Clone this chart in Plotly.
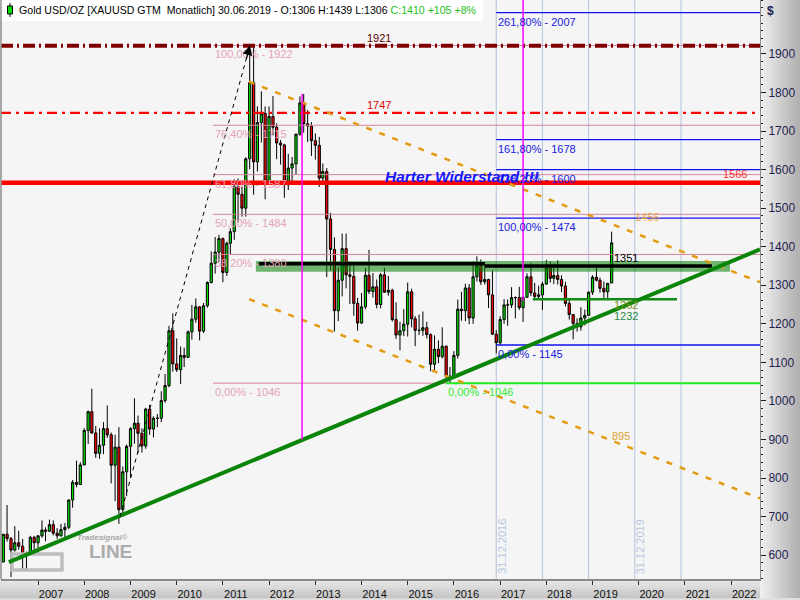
import plotly.graph_objects as go
import pandas as pd

# ---------------- data ----------------
months = pd.date_range("2006-04-01", "2019-06-01", freq="MS")

open_ = [582, 654, 643, 613, 632, 623, 599, 604, 646,
         632, 650, 665, 662, 679, 657, 650, 666, 672, 743, 789, 783,
         834, 923, 972, 917, 864, 885, 928, 912, 833, 880, 718, 816,
         882, 928, 942, 916, 883, 979, 927, 955, 955, 1001, 1040, 1182,
         1096, 1081, 1118, 1113, 1179, 1212, 1244, 1181, 1247, 1307, 1357, 1386,
         1421, 1333, 1409, 1439, 1556, 1536, 1500, 1628, 1826, 1620, 1722, 1746,
         1564, 1738, 1710, 1669, 1664, 1561, 1604, 1615, 1692, 1773, 1719, 1713,
         1675, 1663, 1578, 1595, 1472, 1393, 1234, 1313, 1395, 1327, 1323, 1253,
         1202, 1244, 1326, 1284, 1296, 1250, 1327, 1282, 1287, 1211, 1171, 1182,
         1199, 1283, 1213, 1183, 1183, 1190, 1172, 1095, 1134, 1115, 1142, 1064,
         1061, 1118, 1238, 1234, 1293, 1215, 1322, 1351, 1309, 1315, 1275, 1173,
         1151, 1211, 1249, 1249, 1268, 1268, 1242, 1269, 1322, 1280, 1271, 1275,
         1303, 1345, 1318, 1325, 1315, 1298, 1253, 1224, 1201, 1192, 1215, 1222,
         1282, 1321, 1313, 1292, 1283, 1306]
high = [654, 730, 647, 675, 663, 642, 609, 650, 650,
        652, 690, 672, 692, 690, 670, 681, 683, 744, 795, 845, 841,
        929, 975, 1032, 935, 929, 945, 988, 918, 912, 932, 830, 887,
        932, 1007, 962, 929, 982, 990, 960, 966, 1025, 1070, 1195, 1227,
        1162, 1141, 1138, 1183, 1249, 1266, 1245, 1254, 1310, 1388, 1425, 1431,
        1424, 1413, 1448, 1575, 1577, 1556, 1632, 1913, 1921, 1764, 1803, 1764,
        1764, 1791, 1720, 1677, 1667, 1641, 1633, 1693, 1790, 1796, 1755, 1723,
        1694, 1685, 1616, 1604, 1488, 1424, 1348, 1434, 1434, 1361, 1361, 1267,
        1280, 1345, 1392, 1332, 1315, 1332, 1345, 1324, 1291, 1256, 1205, 1238,
        1307, 1291, 1220, 1224, 1232, 1205, 1175, 1170, 1157, 1191, 1143, 1088,
        1129, 1263, 1283, 1304, 1303, 1362, 1375, 1367, 1352, 1317, 1338, 1183,
        1220, 1264, 1263, 1295, 1271, 1296, 1271, 1331, 1357, 1306, 1299, 1309,
        1366, 1362, 1356, 1365, 1326, 1309, 1266, 1225, 1214, 1243, 1237, 1284,
        1326, 1347, 1320, 1310, 1306, 1439]
low = [582, 635, 543, 609, 614, 560, 560, 604, 608,
       603, 645, 636, 660, 651, 642, 648, 647, 667, 723, 776, 782,
       833, 888, 915, 852, 850, 862, 904, 786, 740, 681, 700, 753,
       801, 889, 865, 866, 876, 912, 905, 932, 945, 995, 1035, 1076,
       1075, 1044, 1088, 1112, 1159, 1203, 1157, 1176, 1242, 1305, 1330, 1360,
       1308, 1324, 1381, 1418, 1463, 1478, 1478, 1601, 1535, 1595, 1670, 1523,
       1562, 1689, 1627, 1613, 1527, 1547, 1565, 1587, 1688, 1696, 1672, 1635,
       1626, 1555, 1562, 1321, 1338, 1180, 1207, 1271, 1292, 1251, 1221, 1182,
       1200, 1238, 1277, 1268, 1240, 1240, 1281, 1273, 1206, 1161, 1131, 1168,
       1167, 1191, 1142, 1171, 1169, 1162, 1077, 1080, 1098, 1110, 1052, 1046,
       1061, 1110, 1208, 1207, 1199, 1200, 1310, 1301, 1302, 1241, 1171, 1123,
       1146, 1200, 1195, 1241, 1214, 1236, 1205, 1267, 1272, 1261, 1264, 1236,
       1302, 1307, 1303, 1302, 1282, 1245, 1211, 1160, 1180, 1182, 1196, 1221,
       1275, 1310, 1281, 1266, 1266, 1306]
close = [654, 643, 613, 632, 623, 599, 604, 646, 632,
         650, 665, 662, 679, 657, 650, 666, 672, 743, 789, 783, 834,
         923, 972, 917, 864, 885, 928, 912, 833, 880, 718, 816, 882,
         928, 942, 916, 883, 979, 927, 955, 955, 1001, 1040, 1182, 1096,
         1081, 1118, 1113, 1179, 1212, 1244, 1181, 1247, 1307, 1357, 1386, 1421,
         1333, 1409, 1439, 1556, 1536, 1500, 1628, 1826, 1620, 1722, 1746, 1564,
         1738, 1710, 1669, 1664, 1561, 1604, 1615, 1692, 1773, 1719, 1713, 1675,
         1663, 1578, 1595, 1472, 1393, 1234, 1313, 1395, 1327, 1323, 1253, 1202,
         1244, 1326, 1284, 1296, 1250, 1327, 1282, 1287, 1211, 1171, 1182, 1199,
         1283, 1213, 1183, 1183, 1190, 1172, 1095, 1134, 1115, 1142, 1064, 1061,
         1118, 1238, 1234, 1293, 1215, 1322, 1351, 1309, 1315, 1275, 1173, 1151,
         1211, 1249, 1249, 1268, 1268, 1242, 1269, 1322, 1280, 1271, 1275, 1303,
         1345, 1318, 1325, 1315, 1298, 1253, 1224, 1201, 1192, 1215, 1222, 1282,
         1321, 1313, 1292, 1283, 1305, 1410]

# y-axis labelled ticks
y_tick_values = [600, 700, 800, 900, 1000, 1100, 1200, 1300, 1400, 1500, 1600, 1700, 1800, 1900]

# Fibonacci retracement (pink)
fib_pink_levels = [1922, 1715, 1587, 1484, 1380, 1046]
fib_pink_pct = ["100,00%", "76,40%", "61,80%", "50,00%", "38,20%", "0,00%"]
fib_pink_start = "2010-10-15"
# Fibonacci extension (blue)
fib_blue_levels = [2007, 1678, 1600, 1474, 1145]
fib_blue_pct = ["261,80%", "161,80%", "138,20%", "100,00%", "0,00%"]
fib_blue_start = "2016-12-01"
# green fib 0%
fib_green_level = 1046
fib_green_start = "2015-11-01"

# horizontal levels
level_top = 1921
level_1747 = 1747
level_resist = 1566

# trend line & channel (start/end points)
trend_x = ["2006-05-15", "2022-08-17"]
trend_y = [582, 1393]
chan_up_x = ["2011-07-26", "2022-08-17"]
chan_up_y = [1828, 1308]
chan_lo_x = ["2011-07-28", "2022-08-17"]
chan_lo_y = [1264, 747]
swing_x = ["2008-10-10", "2011-08-03"]
swing_y = [700, 1922]

magenta1_x = "2012-09-18"; magenta1_y = [900, 1797]
magenta2_x = "2017-07-01"; magenta2_y = [1260, 2100]

zone_x = ["2011-09-19", "2021-12-23"]; zone_y = [1335, 1363]
black_seg = [("2011-10-12", "2016-09-03", 1356), ("2016-09-03", "2021-08-02", 1350)]
support_x = ["2017-09-16", "2020-10-30"]; support_y = 1264

vgrid_dates = ["2016-12-01", "2017-12-01", "2018-12-01", "2019-12-01", "2020-12-01"]
vlabel_dates = ["2016-12-01", "2019-12-01"]
vlabel_text = ["31.12.2016", "31.12.2019"]

X_RANGE = ["2006-03-14", "2022-08-17"]
Y_RANGE = [538, 2040]

# ---------------- figure ----------------
W, H = 800, 600
ML, MR, MT, MB = 1, 40, 0, 19
PW, PH = W - ML - MR, H - MT - MB

def px(xp):
    return (xp - ML) / PW

def py(yp):
    return (H - MB - yp) / PH

fig = go.Figure()

fig.add_trace(go.Candlestick(
    x=months, open=open_, high=high, low=low, close=close,
    increasing=dict(fillcolor="#00dd00", line=dict(color="black", width=1)),
    decreasing=dict(fillcolor="#ff0000", line=dict(color="black", width=1)),
    whiskerwidth=0, showlegend=False, hoverinfo="skip",
))

shapes = []
ann = []
FONT = "Liberation Sans, Arial, sans-serif"

# axis-area gradients (outside plot)
n = 12
for i in range(n):
    c = int(238 - (238 - 178) * i / (n - 1))
    x0 = 760 + 40 * i / n
    x1 = 760 + 40 * (i + 1) / n
    shapes.append(dict(type="rect", xref="paper", yref="paper", x0=px(x0), x1=px(x1) + 0.001,
                       y0=py(600), y1=py(0), fillcolor=f"rgb({c},{c},{c})", line=dict(width=0), layer="below"))
for i in range(6):
    c = int(232 - (232 - 200) * i / 5)
    y0 = 581 + 19 * i / 6
    y1 = 581 + 19 * (i + 1) / 6
    shapes.append(dict(type="rect", xref="paper", yref="paper", x0=px(0), x1=px(760),
                       y0=py(y1) - 0.001, y1=py(y0), fillcolor=f"rgb({c},{c},{c})", line=dict(width=0), layer="below"))

# vertical grid lines
for d in vgrid_dates:
    shapes.append(dict(type="line", xref="x", yref="paper", x0=d, x1=d, y0=0, y1=1,
                       line=dict(color="#b4c4dc", width=1), layer="below"))
for d, t in zip(vlabel_dates, vlabel_text):
    ann.append(dict(x=d, y=0, xref="x", yref="paper", text=t, textangle=-90, showarrow=False,
                    xanchor="center", yanchor="bottom", xshift=5, yshift=3,
                    font=dict(family=FONT, size=11, color="#b8c8e2")))

# watermark
shapes.append(dict(type="rect", xref="paper", yref="paper", x0=px(12), x1=px(62), y0=py(572), y1=py(556),
                   line=dict(color="#bdbdbd", width=3.5), fillcolor="rgba(0,0,0,0)"))
ann.append(dict(x=px(76), y=py(545), xref="paper", yref="paper", text="<b><i>Tradesignal</i></b>®", showarrow=False,
                font=dict(family=FONT, size=8, color="#a8a8a8"), borderpad=0))
ann.append(dict(x=px(88), y=py(565), xref="paper", yref="paper", text="<b>LINE</b>", showarrow=False,
                font=dict(family=FONT, size=19, color="#acacac"), borderpad=0))

# pink fib
for lv, pct in zip(fib_pink_levels, fib_pink_pct):
    shapes.append(dict(type="line", xref="x", yref="y", x0=fib_pink_start, x1=X_RANGE[1], y0=lv, y1=lv,
                       line=dict(color="#d6869c", width=1)))
    ann.append(dict(x=fib_pink_start, y=lv, xref="x", yref="y", text=f"{pct} - {lv}", showarrow=False,
                    xanchor="left", yanchor="top", yshift=-1,
                    font=dict(family=FONT, size=11, color="#e6a2b6")))
# blue fib
for lv, pct in zip(fib_blue_levels, fib_blue_pct):
    shapes.append(dict(type="line", xref="x", yref="y", x0=fib_blue_start, x1=X_RANGE[1], y0=lv, y1=lv,
                       line=dict(color="#1010f0", width=1.3)))
    ann.append(dict(x=fib_blue_start, y=lv, xref="x", yref="y", text=f"{pct} - {lv}", showarrow=False,
                    xanchor="left", yanchor="top", yshift=-1,
                    font=dict(family=FONT, size=11, color="#2020e0")))
# green fib
shapes.append(dict(type="line", xref="x", yref="y", x0=fib_green_start, x1=X_RANGE[1], y0=fib_green_level,
                   y1=fib_green_level, line=dict(color="#22ee22", width=2)))
ann.append(dict(x=fib_green_start, y=fib_green_level, xref="x", yref="y", text=f"0,00% - {fib_green_level}",
                showarrow=False, xanchor="left", yanchor="top", yshift=-1,
                font=dict(family=FONT, size=11, color="#33ee33")))

# horizontal levels
shapes.append(dict(type="line", xref="x", yref="y", x0=X_RANGE[0], x1=X_RANGE[1], y0=level_top, y1=level_top,
                   line=dict(color="#800000", width=4, dash="12px,4px,2px,4px")))
ann.append(dict(x="2014-05-19", y=level_top, xref="x", yref="y", text=str(level_top), showarrow=False,
                yanchor="bottom", yshift=0, font=dict(family=FONT, size=11, color="#600000")))
shapes.append(dict(type="line", xref="x", yref="y", x0=X_RANGE[0], x1=X_RANGE[1], y0=level_1747, y1=level_1747,
                   line=dict(color="#ff0000", width=2.2, dash="10px,5px,3px,5px")))
ann.append(dict(x="2014-05-19", y=level_1747, xref="x", yref="y", text=str(level_1747), showarrow=False,
                yanchor="bottom", yshift=0, font=dict(family=FONT, size=11, color="#e00000")))
shapes.append(dict(type="line", xref="x", yref="y", x0=X_RANGE[0], x1=X_RANGE[1], y0=level_resist, y1=level_resist,
                   line=dict(color="#ff0000", width=4.5)))
ann.append(dict(x="2022-02-01", y=level_resist, xref="x", yref="y", text=str(level_resist), showarrow=False,
                yanchor="bottom", yshift=1, font=dict(family=FONT, size=11, color="#ff3030")))

# green zone
shapes.append(dict(type="rect", xref="x", yref="y", x0=zone_x[0], x1=zone_x[1], y0=zone_y[0], y1=zone_y[1],
                   fillcolor="rgba(0,128,0,0.55)", line=dict(width=0)))
for a, b, lv in black_seg:
    shapes.append(dict(type="line", xref="x", yref="y", x0=a, x1=b, y0=lv, y1=lv,
                       line=dict(color="black", width=3.5)))
ann.append(dict(x="2019-06-03", y=1370, xref="x", yref="y", text="1351", showarrow=False, xanchor="left",
                font=dict(family=FONT, size=11, color="black")))

# support line
shapes.append(dict(type="line", xref="x", yref="y", x0=support_x[0], x1=support_x[1], y0=support_y, y1=support_y,
                   line=dict(color="#138a13", width=2.5)))
ann.append(dict(x="2019-06-03", y=1249, xref="x", yref="y", text="1262", showarrow=False, xanchor="left",
                font=dict(family=FONT, size=11, color="#7a9a1a")))
ann.append(dict(x="2019-06-03", y=1219, xref="x", yref="y", text="1232", showarrow=False, xanchor="left",
                font=dict(family=FONT, size=11, color="#1f8a45")))

# channel
for xs, ys in ((chan_up_x, chan_up_y), (chan_lo_x, chan_lo_y)):
    shapes.append(dict(type="line", xref="x", yref="y", x0=xs[0], x1=xs[1], y0=ys[0], y1=ys[1],
                       line=dict(color="#e39a10", width=2.5, dash="6px,8px")))
ann.append(dict(x="2019-11-17", y=1476, xref="x", yref="y", text="1456", showarrow=False, xanchor="left",
                font=dict(family=FONT, size=11, color="#eaa540")))
ann.append(dict(x="2019-05-20", y=910, xref="x", yref="y", text="895", showarrow=False, xanchor="left",
                font=dict(family=FONT, size=11, color="#e3a030")))

# trend line
shapes.append(dict(type="line", xref="x", yref="y", x0=trend_x[0], x1=trend_x[1], y0=trend_y[0], y1=trend_y[1],
                   line=dict(color="#0a850a", width=4)))

# magenta verticals
shapes.append(dict(type="line", xref="x", yref="y", x0=magenta1_x, x1=magenta1_x, y0=magenta1_y[0], y1=magenta1_y[1],
                   line=dict(color="#ff00ff", width=1.5)))
shapes.append(dict(type="line", xref="x", yref="y", x0=magenta2_x, x1=magenta2_x, y0=magenta2_y[0], y1=magenta2_y[1],
                   line=dict(color="#ff00ff", width=1.5)))

# swing dashed line with arrow
shapes.append(dict(type="line", xref="x", yref="y", x0=swing_x[0], x1=swing_x[1], y0=swing_y[0], y1=swing_y[1],
                   line=dict(color="black", width=1, dash="4px,4px")))
ann.append(dict(x=swing_x[1], y=swing_y[1], xref="x", yref="y", ax=-4, ay=15, showarrow=True,
                arrowhead=2, arrowsize=1.6, arrowwidth=1.2, arrowcolor="black", text=""))

# Harter Widerstand
ann.append(dict(x="2016-03-08", y=1582, xref="x", yref="y", text="<b><i>Harter Widerstand !!!</i></b>",
                showarrow=False, font=dict(family=FONT, size=15.5, color="#1515ff")))

# title box
shapes.append(dict(type="rect", xref="paper", yref="paper", x0=px(0), x1=px(483), y0=py(21), y1=py(0),
                   fillcolor="white", line=dict(width=0)))
shapes.append(dict(type="line", xref="paper", yref="paper", x0=px(10), x1=px(10), y0=py(17), y1=py(3),
                   line=dict(color="black", width=1)))
shapes.append(dict(type="rect", xref="paper", yref="paper", x0=px(7.5), x1=px(12.5), y0=py(14), y1=py(6),
                   fillcolor="#00dd00", line=dict(color="black", width=1)))
ann.append(dict(x=px(17), y=py(10), xref="paper", yref="paper", xanchor="left", yanchor="middle", showarrow=False,
                text="Gold USD/OZ [XAUUSD GTM  Monatlich] 30.06.2019 - O:1306 H:1439 L:1306 "
                     "<span style='color:#22c022'>C:1410 +105 +8%</span>",
                font=dict(family=FONT, size=10.6, color="black")))
ann.append(dict(x=px(765), y=py(11), xref="paper", yref="paper", xanchor="left", yanchor="middle", showarrow=False,
                text="<b>$</b>", font=dict(family=FONT, size=12, color="#202050")))

# left border
shapes.append(dict(type="line", xref="paper", yref="paper", x0=0, x1=0, y0=0, y1=1,
                   line=dict(color="#909090", width=1.5)))

fig.update_layout(
    width=W, height=H,
    margin=dict(l=ML, r=MR, t=MT, b=MB, pad=0),
    paper_bgcolor="#e0e0e0",
    plot_bgcolor="#f5f5f5",
    showlegend=False,
    boxgap=0.1,
    shapes=shapes,
    annotations=ann,
    xaxis=dict(
        type="date", range=X_RANGE, rangeslider=dict(visible=False),
        showgrid=False, zeroline=False,
        tickformat="%Y", dtick="M12", tick0="2007-01-01",
        ticks="outside", ticklen=4, tickcolor="#303030", ticklabelshift=13,
        tickfont=dict(family=FONT, size=11, color="#101010"),
        showline=True, linecolor="#8a8a8a", linewidth=1.5,
        fixedrange=True,
    ),
    yaxis=dict(
        side="right", range=Y_RANGE, showgrid=False, zeroline=False,
        tickmode="array", tickvals=y_tick_values, ticks="outside", ticklen=5, tickcolor="#202020",
        minor=dict(tickmode="linear", tick0=0, dtick=20, ticks="outside", ticklen=2, tickcolor="#202020",
                   showgrid=False),
        tickfont=dict(family=FONT, size=12, color="#1e1e50"),
        showline=True, linecolor="#8a8a8a", linewidth=1,
        fixedrange=True,
    ),
)

fig.write_html("out.html", config={"displayModeBar": False},
               post_script="document.body.style.margin='0';document.body.style.padding='0';")
